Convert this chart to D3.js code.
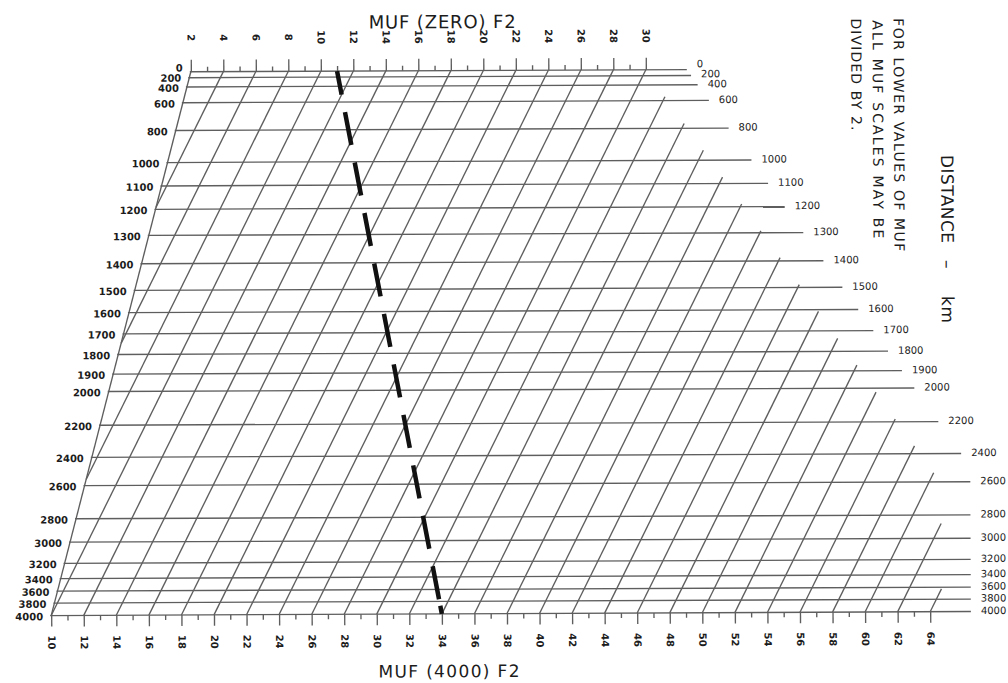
<!DOCTYPE html>
<html><head><meta charset="utf-8">
<script src="https://cdn.jsdelivr.net/npm/d3@7"></script>
<style>
html,body{margin:0;padding:0;background:#fff;}
svg{display:block;}
text{font-family:"DejaVu Sans",sans-serif;fill:#1c1c1c;}
</style></head><body>
<svg id="chart" width="1008" height="683"></svg>
<script>
// ---- data ----
const distances = [0,200,400,600,800,1000,1100,1200,1300,1400,1500,1600,1700,1800,1900,2000,2200,2400,2600,2800,3000,3200,3400,3600,3800,4000];
// fraction of the way from the 0 km line to the 4000 km line
const distanceFactor = [0,0.011,0.028,0.057,0.108,0.167,0.210,0.253,0.301,0.353,0.402,0.443,0.482,0.520,0.556,0.588,0.650,0.709,0.761,0.822,0.865,0.904,0.932,0.955,0.977,1];
const topTickLabels = [2,4,6,8,10,12,14,16,18,20,22,24,26,28,30];
const bottomTickLabels = [10,12,14,16,18,20,22,24,26,28,30,32,34,36,38,40,42,44,46,48,50,52,54,56,58,60,62,64];
const gridValues = [4,6,8,10,12,14,16,18,20,22,24,26,28,30,32,34,36,38,40,42,44,46,48,50,52,54,56,58,60,62,64];
const exampleMufZero = 11;
const exampleMuf4000 = 34;
const noteLines = ["FOR LOWER VALUES OF MUF","ALL MUF SCALES MAY BE","DIVIDED BY 2."];

// ---- scales ----
const xTop = d3.scaleLinear().domain([2,30]).range([192,647]);
const xBot = d3.scaleLinear().domain([10,64]).range([50,929]);
const yF = d3.scaleLinear().domain([0,1]).range([70.4,613.6]);

const svg = d3.select("#chart");
const g = svg.append("g").attr("transform","rotate(-0.25,500,340)");

const gridColor = "#5e5e5e";
const leftX = f => xTop(2) + (xBot(10) - xTop(2)) * f;
const rightX = f => Math.min(xTop(30) + (xBot(70.3) - xTop(30)) * f, xBot(64.7));
const lineX = (m,f) => xTop(m) + (xBot(m) - xTop(m)) * f;

// ---- slanted MUF lines ----
gridValues.forEach(m => {
  let fmin = null, fmax = null;
  for (let i = 0; i <= 4000; i++) {
    const f = i / 4000, x = lineX(m,f);
    if (x >= leftX(f) - 0.01 && x <= rightX(f) + 0.01) {
      if (fmin === null) fmin = f;
      fmax = f;
    }
  }
  if (fmin === null || fmax - fmin < 0.004) return;
  g.append("line")
    .attr("x1", lineX(m,fmin)).attr("y1", yF(fmin))
    .attr("x2", lineX(m,fmax)).attr("y2", yF(fmax))
    .attr("stroke", gridColor).attr("stroke-width", 1.35);
});
// left boundary
g.append("line").attr("x1", leftX(0)).attr("y1", yF(0)).attr("x2", leftX(1)).attr("y2", yF(1))
  .attr("stroke", gridColor).attr("stroke-width", 1.35);

// ---- distance rows ----
const rowEnd = f => Math.min(rightX(f) + 41, xBot(66.5));
distances.forEach((d,i) => {
  const f = distanceFactor[i];
  g.append("line").attr("x1", leftX(f) - 1).attr("x2", rowEnd(f))
    .attr("y1", yF(f)).attr("y2", yF(f))
    .attr("stroke", gridColor).attr("stroke-width", 1.35);
});

// label positions: spread labels of rows that are too close together
const labelY = distanceFactor.map(f => yF(f));
for (let i = labelY.length - 2; i >= 0; i--) labelY[i] = Math.min(labelY[i], labelY[i+1] - 10);

distances.forEach((d,i) => {
  const f = distanceFactor[i];
  g.append("text").attr("x", leftX(f) - 8).attr("y", labelY[i] + 1).attr("dy","0.36em")
    .attr("text-anchor","end").attr("font-size",10).attr("font-weight","bold").text(d);
  g.append("text").attr("x", rowEnd(f) + 10).attr("y", labelY[i] - 1).attr("dy","0.36em")
    .attr("text-anchor","start").attr("font-size",10).text(d);
});

// ---- axes ----
function styleAxis(sel) {
  sel.select(".domain").remove();
  sel.selectAll(".tick line").attr("stroke", gridColor).attr("stroke-width", 1.35);
}
const topMajor = g.append("g").attr("transform",`translate(0,${yF(0)})`)
  .call(d3.axisTop(xTop).tickValues(topTickLabels).tickSize(12).tickFormat(d3.format("d")));
styleAxis(topMajor);
topMajor.selectAll(".tick text").attr("x",0).attr("y",0).attr("dy","0.36em")
  .attr("transform","translate(0,-34) rotate(90)").attr("text-anchor","middle")
  .attr("font-size",10).attr("font-weight","bold").attr("fill","#1c1c1c")
  .style("font-family","DejaVu Sans");
const topMinor = g.append("g").attr("transform",`translate(0,${yF(0)})`)
  .call(d3.axisTop(xTop).tickValues(d3.range(3,30,2)).tickSize(5).tickFormat(""));
styleAxis(topMinor);

const botMajor = g.append("g").attr("transform",`translate(0,${yF(1)})`)
  .call(d3.axisBottom(xBot).tickValues(bottomTickLabels).tickSize(11).tickFormat(d3.format("d")));
styleAxis(botMajor);
botMajor.selectAll(".tick text").attr("x",0).attr("y",0).attr("dy","0.36em")
  .attr("transform","translate(0,27) rotate(90)").attr("text-anchor","middle")
  .attr("font-size",10).attr("font-weight","bold").attr("fill","#1c1c1c")
  .style("font-family","DejaVu Sans");
const botMinor = g.append("g").attr("transform",`translate(0,${yF(1)})`)
  .call(d3.axisBottom(xBot).tickValues(d3.range(11,64,2)).tickSize(5).tickFormat(""));
styleAxis(botMinor);

// ---- example (dashed) line ----
const ex = g.append("line")
  .attr("x1", xTop(exampleMufZero)).attr("y1", yF(0))
  .attr("x2", xBot(exampleMuf4000)).attr("y2", yF(1))
  .attr("stroke","#111").attr("stroke-width",4.5)
  .attr("stroke-dasharray","33.6 17.8").attr("stroke-dashoffset",9.7);
g.append("line")
  .attr("x1", xTop(exampleMufZero) + (xBot(exampleMuf4000)-xTop(exampleMufZero))*0.985).attr("y1", yF(0.985))
  .attr("x2", xBot(exampleMuf4000)).attr("y2", yF(1))
  .attr("stroke","#111").attr("stroke-width",4.5);

// ---- titles ----
g.append("text").attr("x",443.5).attr("y",28).attr("text-anchor","middle")
  .attr("font-size",18).attr("textLength",147).attr("lengthAdjust","spacing").text("MUF (ZERO) F2");
g.append("text").attr("x",447.5).attr("y",677).attr("text-anchor","middle")
  .attr("font-size",17).attr("textLength",141).attr("lengthAdjust","spacing").text("MUF (4000) F2");

function vtext(txt, cx, y1, y2, size) {
  g.append("text").attr("transform",`translate(${cx},${y1}) rotate(90)`)
    .attr("dy","0.36em").attr("font-size",size)
    .attr("textLength", y2 - y1).attr("lengthAdjust","spacing").text(txt);
}
vtext(noteLines[0], 900, 20, 253, 14);
vtext(noteLines[1], 879, 22, 240, 14);
vtext(noteLines[2], 857.5, 20, 132, 14);
vtext("DISTANCE", 948, 157, 245, 17);
vtext("–", 948, 262, 277, 17);
vtext("km", 948, 298, 325, 17);
</script>
</body></html>
